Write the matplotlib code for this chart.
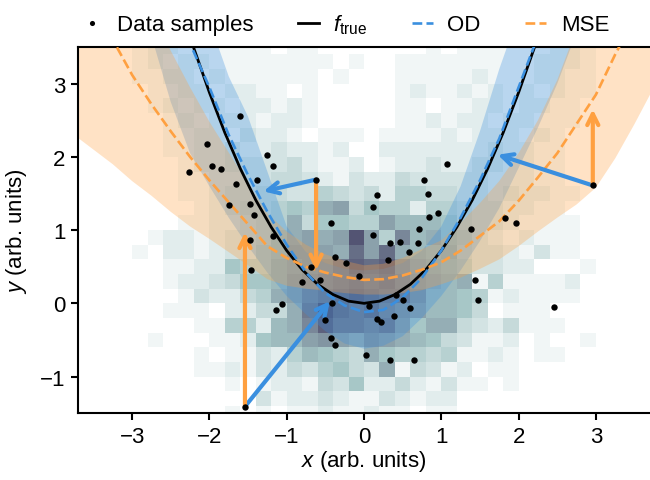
import numpy as np
import matplotlib
matplotlib.use("Agg")
import matplotlib.pyplot as plt

plt.rcParams['font.family'] = ['Liberation Sans', 'DejaVu Sans']
plt.rcParams['mathtext.fontset'] = 'custom'
plt.rcParams['mathtext.rm'] = 'Liberation Sans'
plt.rcParams['mathtext.it'] = 'Liberation Sans:italic'
plt.rcParams['font.size'] = 16

BLUE = '#3a8fdf'
ORANGE = '#ffa040'

# 2d histogram of the training distribution, hex levels (0 = empty)
# rows from y = 3.4..3.6 (top) down to y = -1.6..-1.4, columns x = -3.0 .. 3.0 in 0.2 bins
hist_rows = [
    "1221111110" "1100000001" "0111111221",
    "1212211111" "1110100111" "1111112221",
    "1122121111" "1101000111" "1121112211",
    "0112212211" "0100000121" "1212121211",
    "0121221221" "2100000110" "1122122110",
    "0012122212" "2100000112" "1221221110",
    "0011221322" "1011101111" "2122212100",
    "0011223223" "2212002222" "2223221100",
    "0001223333" "4211201223" "2233221100",
    "0001122334" "4321322433" "3332221100",
    "0001123344" "3354342554" "4332322110",
    "0000123445" "6589465525" "5433221100",
    "0001122345" "8466559777" "6433211110",
    "0122123346" "8989f95b78" "6532121110",
    "1022123356" "9998d9d876" "7433213110",
    "0011226557" "89acedea87" "6533220001",
    "0012234667" "9abcdcdb98" "7815111120",
    "0001322458" "9bcdedcca7" "7651211110",
    "0011102244" "8cfdcdba97" "7640111000",
    "0000115527" "8beccbc968" "8432411100",
    "0100011267" "79a98a9876" "4311201001",
    "0000101132" "5765486554" "5112101100",
    "0000112132" "4356438143" "1201100000",
    "0000001012" "2143622421" "3110100000",
    "0000000031" "2232113212" "2000000000",
    "0000001010" "1121121101" "1000000000",
]
hist_x_edges = np.linspace(-3.0, 3.0, 31)
hist_y_edges = np.linspace(3.6, -1.6, 27)

# data samples
xs = [-2.26, -2.03, -1.97, -1.85, -1.75, -1.66, -1.60, -1.54, -1.48, -1.48, -1.46,
      -1.42, -1.39, -1.26, -1.18, -1.18, -1.14, -1.06, -0.80, -0.69, -0.62, -0.57,
      -0.51, -0.43, -0.43, -0.42, -0.38, -0.37, -0.23, -0.06, 0.03, 0.06, 0.11,
      0.11, 0.17, 0.17, 0.22, 0.31, 0.33, 0.34, 0.39, 0.42, 0.46, 0.51, 0.58,
      0.60, 0.65, 0.70, 0.71, 0.78, 0.83, 0.84, 0.96, 1.07, 1.38, 1.43, 1.47,
      1.83, 1.96, 2.46, 2.96]
ys = [1.80, 2.17, 1.87, 1.84, 1.34, 1.63, 2.56, -1.41, 1.36, 0.86, 0.45,
      1.20, 1.69, 2.02, 1.88, 0.92, -0.09, -0.01, 0.29, 0.50, 1.69, 0.32,
      -0.23, 1.10, -0.47, 0.00, -0.57, 0.63, 0.55, 0.37, -0.71, -0.04, 1.32,
      0.94, 1.48, -0.21, -0.25, 0.59, 0.83, -0.77, -0.17, 0.11, 0.84, 0.05, 0.70,
      -0.07, -0.77, 0.82, 1.01, 1.69, 1.49, 1.18, 1.23, 1.90, 1.02, 0.32, 0.04,
      1.17, 1.10, -0.05, 1.61]

# true function
xt = [-2.4, -2.2, -2.0, -1.8, -1.6, -1.4, -1.2, -1.0, -0.8, -0.6, -0.4, -0.2, 0.0,
      0.2, 0.4, 0.6, 0.8, 1.0, 1.2, 1.4, 1.6, 1.8, 2.0, 2.2, 2.4]
f_true = [4.15, 3.48, 2.88, 2.33, 1.84, 1.41, 1.04, 0.72, 0.46, 0.26, 0.12, 0.03, 0.0,
          0.03, 0.12, 0.26, 0.46, 0.72, 1.04, 1.41, 1.84, 2.33, 2.88, 3.48, 4.15]

# model predictions with bands
xg = [-3.75, -3.5, -3.25, -3.0, -2.75, -2.5, -2.25, -2.0, -1.75, -1.5, -1.25, -1.0, -0.75,
      -0.5, -0.25, 0.0, 0.25, 0.5, 0.75, 1.0, 1.25, 1.5, 1.75, 2.0, 2.25, 2.5,
      2.75, 3.0, 3.25, 3.5, 3.75]
od_mean = [8.6, 7.6, 6.6, 5.8, 4.9, 4.15, 3.55, 2.95, 2.3, 1.75, 1.25, 0.8, 0.42,
           0.14, -0.03, -0.12, -0.09, 0.08, 0.35, 0.72, 1.17, 1.68, 2.25, 2.95, 3.65, 4.35,
           5.1, 5.9, 6.8, 7.7, 8.6]
od_low = [6.8, 6.1, 5.3, 4.6, 3.65, 2.75, 2.05, 1.6, 1.17, 0.78, 0.42, 0.1, -0.15,
          -0.38, -0.55, -0.62, -0.58, -0.45, -0.2, 0.1, 0.45, 0.85, 1.3, 1.85, 2.4, 3.0,
          3.7, 4.6, 5.4, 6.2, 7.0]
od_high = [9.6, 8.7, 7.9, 7.0, 6.0, 5.1, 4.4, 3.85, 3.1, 2.55, 1.8, 1.05, 0.7,
           0.55, 0.47, 0.45, 0.47, 0.55, 0.72, 1.05, 1.6, 2.35, 3.2, 3.95, 4.7, 5.5,
           6.3, 7.2, 8.0, 8.8, 9.6]
mse_mean = [4.5, 4.05, 3.6, 3.12, 2.72, 2.35, 2.0, 1.68, 1.38, 1.08, 0.78, 0.62, 0.5,
            0.42, 0.36, 0.32, 0.33, 0.38, 0.46, 0.56, 0.72, 0.92, 1.12, 1.40, 1.72, 2.05,
            2.45, 2.85, 3.4, 3.9, 4.4]
mse_low = [2.3, 2.1, 1.9, 1.67, 1.47, 1.25, 1.05, 0.88, 0.7, 0.52, 0.33, 0.24, 0.2,
           0.17, 0.14, 0.12, 0.12, 0.14, 0.18, 0.26, 0.35, 0.47, 0.6, 0.78, 0.98, 1.17,
           1.35, 1.58, 1.98, 2.45, 2.95]
mse_high = [6.7, 6.0, 5.3, 4.57, 3.97, 3.45, 2.95, 2.48, 2.06, 1.64, 1.23, 0.98, 0.8,
            0.67, 0.58, 0.52, 0.54, 0.62, 0.74, 0.86, 1.1, 1.37, 1.67, 2.05, 2.5, 3.05,
            3.75, 4.35, 5.1, 5.8, 6.5]

# arrows: start -> end
od_arrows = [((-0.62, 1.69), (-1.30, 1.53)),
             ((2.96, 1.61), (1.73, 2.03)),
             ((-1.54, -1.41), (-0.44, 0.03))]
mse_arrows = [((-0.62, 1.69), (-0.62, 0.45)),
              ((-1.54, -1.41), (-1.54, 0.97)),
              ((2.96, 1.61), (2.96, 2.65))]

fig = plt.figure(figsize=(6.5, 4.81), dpi=100)
ax = fig.add_axes([0.12, 0.139, 0.88, 0.761])

H = np.array([[int(ch, 16) for ch in row] for row in hist_rows], dtype=float)
H = np.ma.masked_equal(H, 0)
ax.pcolormesh(hist_x_edges, hist_y_edges, H, cmap='bone_r', vmin=0, vmax=24,
              shading='flat', zorder=0)

ax.fill_between(xg, od_low, od_high, color=BLUE, alpha=0.3, lw=0, zorder=1)
ax.fill_between(xg, mse_low, mse_high, color=ORANGE, alpha=0.3, lw=0, zorder=1)

ax.plot(xs, ys, 'o', color='black', ms=4.6, mew=0, zorder=5, label='Data samples')
ax.plot(xt, f_true, '-', color='black', lw=2, zorder=3, label=r'$f_{\rm true}$')
ax.plot(xg, od_mean, '--', color=BLUE, lw=1.9, zorder=3, label='OD')
ax.plot(xg, mse_mean, '--', color=ORANGE, lw=1.9, zorder=3, label='MSE')

for (x0, y0), (x1, y1) in od_arrows:
    ax.annotate('', xy=(x1, y1), xytext=(x0, y0), zorder=4,
                arrowprops=dict(arrowstyle='->', color=BLUE, lw=3,
                                mutation_scale=20, shrinkA=0, shrinkB=0))
for (x0, y0), (x1, y1) in mse_arrows:
    ax.annotate('', xy=(x1, y1), xytext=(x0, y0), zorder=4,
                arrowprops=dict(arrowstyle='->', color=ORANGE, lw=3,
                                mutation_scale=20, shrinkA=0, shrinkB=0))

ax.set_xlim(-3.7, 3.7)
ax.set_ylim(-1.5, 3.5)
ax.set_xticks([-3, -2, -1, 0, 1, 2, 3])
ax.set_yticks([-1, 0, 1, 2, 3])
ax.set_xlabel(r'$x$ (arb. units)', labelpad=1)
ax.set_ylabel(r'$y$ (arb. units)', labelpad=8)
ax.spines['right'].set_visible(False)
for s in ['left', 'bottom', 'top']:
    ax.spines[s].set_linewidth(1.5)
ax.tick_params(width=1.5, length=5, labelsize=16, pad=4)

ax.legend(loc='lower center', bbox_to_anchor=(0.467, 1.0), ncol=4, frameon=False,
          handlelength=0.95, columnspacing=2.0, handletextpad=0.65, fontsize=16,
          borderaxespad=0.1, markerscale=0.8)

fig.savefig('out.png', dpi=100)
